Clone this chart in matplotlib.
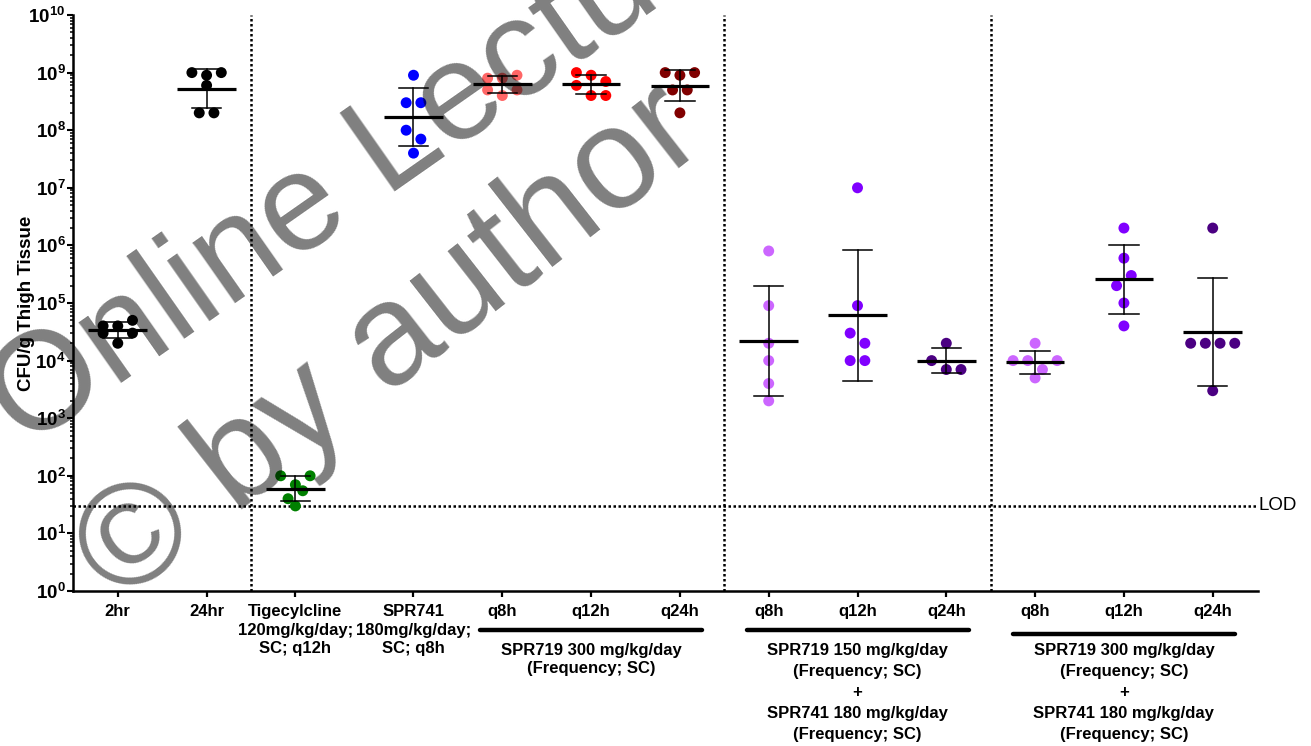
import numpy as np
import matplotlib
matplotlib.use("Agg")
import matplotlib.pyplot as plt
from matplotlib import ticker, transforms

plt.rcParams['font.family'] = ['Liberation Sans', 'DejaVu Sans']
plt.rcParams['mathtext.fontset'] = 'custom'
plt.rcParams['mathtext.rm'] = 'Liberation Sans:bold'
plt.rcParams['mathtext.bf'] = 'Liberation Sans:bold'
plt.rcParams['mathtext.it'] = 'Liberation Sans:bold'

# categories along the x axis
labels = ['2hr', '24hr', 'Tigecylcline\n120mg/kg/day;\nSC; q12h', 'SPR741\n180mg/kg/day;\nSC; q8h',
          'q8h', 'q12h', 'q24h', 'q8h', 'q12h', 'q24h', 'q8h', 'q12h', 'q24h']

# CFU/g per mouse
cfu_2hr = [4e4, 4e4, 5e4, 3e4, 2e4, 3e4]
cfu_24hr = [1e9, 9e8, 1e9, 6e8, 2e8, 2e8]
cfu_tige = [100, 70, 100, 40, 55, 30]
cfu_spr741 = [9e8, 3e8, 3e8, 1e8, 7e7, 4e7]
cfu_s300_q8 = [8e8, 8e8, 9e8, 5e8, 4e8, 5e8]
cfu_s300_q12 = [1e9, 9e8, 7e8, 6e8, 4e8, 4e8]
cfu_s300_q24 = [1e9, 9e8, 1e9, 5e8, 5e8, 2e8]
cfu_c150_q8 = [8e5, 9e4, 2e4, 1e4, 4e3, 2e3]
cfu_c150_q12 = [1e7, 9e4, 3e4, 2e4, 1e4, 1e4]
cfu_c150_q24 = [2e4, 1e4, 7e3, 7e3]
cfu_c300_q8 = [2e4, 1e4, 1e4, 7e3, 1e4, 5e3]
cfu_c300_q12 = [2e6, 6e5, 2e5, 3e5, 1e5, 4e4]
cfu_c300_q24 = [2e6, 2e4, 2e4, 2e4, 2e4, 3e3]

groups = [cfu_2hr, cfu_24hr, cfu_tige, cfu_spr741, cfu_s300_q8, cfu_s300_q12, cfu_s300_q24,
          cfu_c150_q8, cfu_c150_q12, cfu_c150_q24, cfu_c300_q8, cfu_c300_q12, cfu_c300_q24]
colors = ['black', 'black', '#008000', '#0000ff', '#ff6666', '#ff0000', '#800000',
          '#cc66ff', '#8000ff', '#4b0082', '#cc66ff', '#8000ff', '#4b0082']
lod = 30

bracket_text = ['SPR719 300 mg/kg/day\n(Frequency; SC)',
                'SPR719 150 mg/kg/day\n(Frequency; SC)\n+\nSPR741 180 mg/kg/day\n(Frequency; SC)',
                'SPR719 300 mg/kg/day\n(Frequency; SC)\n+\nSPR741 180 mg/kg/day\n(Frequency; SC)']

xpos = [0, 1, 2, 3.33, 4.33, 5.33, 6.33, 7.33, 8.33, 9.33, 10.33, 11.33, 12.33]
dividers = [1.5, 6.83, 9.83]


def swarm(vals, thresh=0.182, step=0.1655):
    # GraphPad-like rows: points within ~one dot height share a row, centred
    logs = np.log10(vals)
    order = np.argsort(-logs, kind='stable')
    offs = np.zeros(len(vals))
    rows = []
    for i in order:
        if rows and rows[-1][0] - logs[i] < thresh:
            rows[-1][1].append(i)
        else:
            rows.append([logs[i], [i]])
    for _, idx in rows:
        idx = sorted(idx)
        n = len(idx)
        for k, i in enumerate(idx):
            offs[i] = (k - (n - 1) / 2) * step
    return offs


fig = plt.figure(figsize=(13.11, 7.46), dpi=100)
ax = fig.add_axes([72.5 / 1311, 155 / 746, 1185.5 / 1311, 576 / 746])

for x, vals, c in zip(xpos, groups, colors):
    vals = np.array(vals, dtype=float)
    ax.scatter(x + swarm(vals), vals, s=62, color=c, edgecolors='none', zorder=3)
    logs = np.log10(vals)
    gm = 10 ** logs.mean()
    sd = logs.std(ddof=1)
    lo, hi = 10 ** (logs.mean() - sd), 10 ** (logs.mean() + sd)
    ax.plot([x - 0.33, x + 0.33], [gm, gm], color='black', lw=2.3, zorder=4, solid_capstyle='butt')
    ax.plot([x, x], [lo, hi], color='black', lw=1.1, zorder=4)
    ax.plot([x - 0.165, x + 0.165], [hi, hi], color='black', lw=1.1, zorder=4)
    ax.plot([x - 0.165, x + 0.165], [lo, lo], color='black', lw=1.1, zorder=4)

for d in dividers:
    ax.axvline(d, color='black', lw=1.8, linestyle=(0, (1, 1)), zorder=1)
ax.axhline(lod, color='black', lw=1.8, linestyle=(0, (1, 1)), zorder=1)
ax.text(1.0, lod, 'LOD', transform=transforms.blended_transform_factory(ax.transAxes, ax.transData),
        ha='left', va='center', fontsize=13.5)

ax.set_yscale('log')
ax.set_ylim(1, 1e10)
ax.set_xlim(-0.51, 12.84)
ax.set_yticks([10.0 ** i for i in range(11)])
ax.set_yticklabels([r'$\mathbf{10^{%d}}$' % i for i in range(11)], fontsize=13.5)
ax.yaxis.set_minor_locator(ticker.LogLocator(base=10, subs=np.arange(2, 10), numticks=100))
ax.yaxis.set_minor_formatter(ticker.NullFormatter())
ax.set_xticks(xpos)
ax.set_xticklabels(labels, fontsize=12, fontweight='bold', linespacing=1.3)

for s in ['top', 'right']:
    ax.spines[s].set_visible(False)
for s in ['left', 'bottom']:
    ax.spines[s].set_linewidth(1.8)
ax.tick_params(axis='y', which='major', length=4, width=1.5, pad=1)
ax.tick_params(axis='y', which='minor', length=2.2, width=1.1)
ax.tick_params(axis='x', which='major', length=4.5, width=1.6, pad=5)

ax.set_ylabel('CFU/g Thigh Tissue', fontsize=13.5, fontweight='bold')
ax.yaxis.set_label_coords(-0.032, 0.5)

# brackets under the SPR719 groups
trans = transforms.blended_transform_factory(ax.transData, ax.transAxes)
for center, ybr, txt, ls in zip([5.33, 8.33, 11.33], [-0.0685, -0.0685, -0.0745], bracket_text,
                                [1.3, 1.5, 1.5]):
    ax.plot([center - 1.25, center + 1.25], [ybr, ybr], transform=trans, clip_on=False,
            color='black', lw=3.2, solid_capstyle='round')
    ax.text(center, -0.0895, txt, transform=trans, ha='center', va='top', fontsize=12,
            fontweight='bold', linespacing=ls)

# watermark
fig.text(375 / 1311, 1 - 162 / 746, 'Online Lecture', fontsize=100, color='black', alpha=0.5,
         rotation=35, ha='center', va='center', rotation_mode='anchor', zorder=10)
fig.text(392 / 1311, 1 - 345 / 746, '\u00a9 by author', fontsize=104, color='black', alpha=0.5,
         rotation=38, ha='center', va='center', rotation_mode='anchor', zorder=10)

fig.savefig('out.png', dpi=100)
